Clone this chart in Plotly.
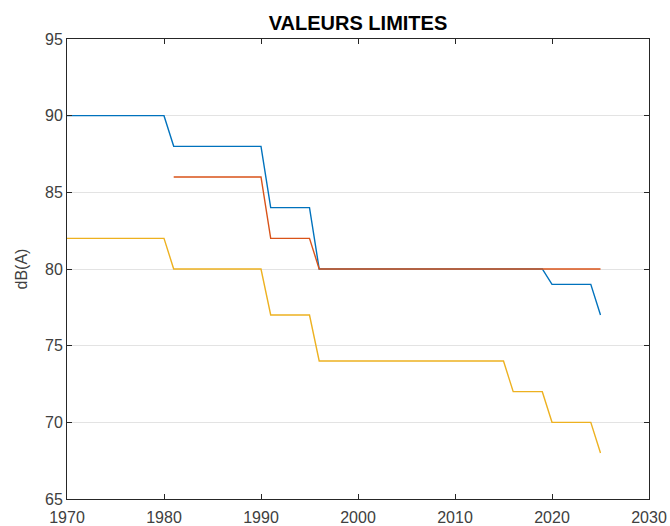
import plotly.graph_objects as go

years = list(range(1970, 2026))

serie_bleue = [90, 90, 90, 90, 90, 90, 90, 90, 90, 90, 90,
               88, 88, 88, 88, 88, 88, 88, 88, 88, 88,
               84, 84, 84, 84, 84,
               80, 80, 80, 80, 80, 80, 80, 80, 80, 80, 80, 80,
               80, 80, 80, 80, 80, 80, 80, 80, 80, 80, 80, 80,
               79, 79, 79, 79, 79,
               77]

serie_rouge = [None, None, None, None, None, None, None, None, None, None, None,
               86, 86, 86, 86, 86, 86, 86, 86, 86, 86,
               82, 82, 82, 82, 82,
               80, 80, 80, 80, 80, 80, 80, 80, 80, 80, 80, 80, 80, 80, 80,
               80, 80, 80, 80, 80, 80, 80, 80, 80, 80, 80, 80, 80, 80, 80]

serie_jaune = [82, 82, 82, 82, 82, 82, 82, 82, 82, 82, 82,
               80, 80, 80, 80, 80, 80, 80, 80, 80, 80,
               77, 77, 77, 77, 77,
               74, 74, 74, 74, 74, 74, 74, 74, 74, 74,
               74, 74, 74, 74, 74, 74, 74, 74, 74, 74,
               72, 72, 72, 72,
               70, 70, 70, 70, 70,
               68]

x_ticks = [1970, 1980, 1990, 2000, 2010, 2020, 2030]
y_ticks = [65, 70, 75, 80, 85, 90, 95]

colors = ["#0072BD", "#D95319", "#EDB120"]

fig = go.Figure()
for vals, c in zip([serie_bleue, serie_rouge, serie_jaune], colors):
    fig.add_trace(go.Scatter(x=years, y=vals, mode="lines",
                             line=dict(color=c, width=1.4),
                             connectgaps=False, showlegend=False,
                             hoverinfo="skip"))

axis_color = "#262626"
label_color = "#404040"
fig.update_layout(
    width=670, height=526,
    margin=dict(l=67, r=21, t=39, b=27, autoexpand=False),
    paper_bgcolor="white", plot_bgcolor="white",
    font=dict(family="Liberation Sans, Arial, sans-serif", size=16, color=label_color),
    title=dict(text="<b>VALEURS LIMITES</b>", x=(67 + 649) / 2 / 670, xanchor="center",
               xref="container", y=1 - 23 / 526, yref="container", yanchor="middle",
               automargin=False,
               font=dict(size=20, color="black")),
    xaxis=dict(range=[1970, 2030], tickvals=x_ticks, ticktext=[str(t) for t in x_ticks],
               showgrid=False, zeroline=False, showline=True, linecolor=axis_color,
               linewidth=1, mirror="ticks", ticks="inside", ticklen=5, automargin=False,
               tickcolor=axis_color, ticklabelstandoff=4,
               tickfont=dict(size=16, color=label_color)),
    yaxis=dict(range=[65, 95], tickvals=y_ticks, ticktext=[str(t) for t in y_ticks],
               showgrid=True, gridcolor="#e3e3e3", gridwidth=1, zeroline=False,
               showline=True, linecolor=axis_color, linewidth=1, mirror="ticks",
               ticks="inside", ticklen=5, tickcolor=axis_color, automargin=False,
               tickfont=dict(size=16, color=label_color),
               title=dict(text="dB(A)", font=dict(size=16, color=label_color), standoff=13)),
)

fig.write_html("out.html", config={"displayModeBar": False},
               post_script="document.body.style.margin='0';document.body.style.overflow='hidden';")
